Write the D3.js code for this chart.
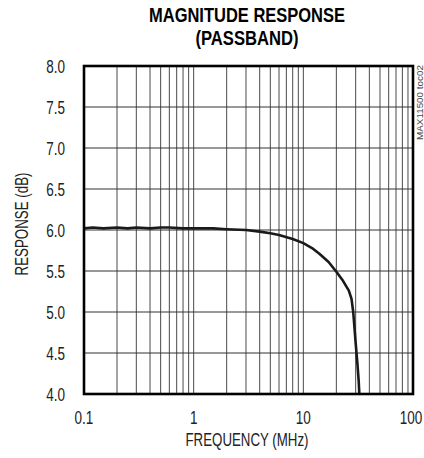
<!DOCTYPE html>
<html>
<head>
<meta charset="utf-8">
<script src="https://cdn.jsdelivr.net/npm/d3@7"></script>
<style>
  html, body { margin: 0; padding: 0; background: #fff; }
  svg { display: block; }
  text { font-family: "Liberation Sans", Arial, sans-serif; fill: #222; }
</style>
</head>
<body>
<div id="chart"></div>
<script>
// values
const freqMHz = [0.1, 0.12, 0.15, 0.2, 0.25, 0.3, 0.4, 0.5, 0.6, 0.8, 1, 1.5, 2, 3, 4, 5, 6, 8, 10, 12, 14, 17, 20, 23, 26, 27.5, 28.5, 29.3, 30, 31, 32, 32.4];
const respDb  = [6.02, 6.03, 6.02, 6.03, 6.02, 6.03, 6.02, 6.03, 6.03, 6.02, 6.02, 6.02, 6.01, 6.00, 5.98, 5.96, 5.94, 5.89, 5.84, 5.78, 5.71, 5.61, 5.49, 5.38, 5.26, 5.16, 5.00, 4.80, 4.62, 4.40, 4.15, 4.0];

const xDomain = [0.1, 100];
const yDomain = [4.0, 8.0];
const xTickLabels = [0.1, 1, 10, 100];
const yTicks = d3.range(4.0, 8.01, 0.5);

const width = 424, height = 458;
const margin = {top: 66, right: 11, bottom: 64, left: 84};

const svg = d3.select("#chart").append("svg")
    .attr("width", width)
    .attr("height", height);

const x = d3.scaleLog().domain(xDomain).range([margin.left, width - margin.right]);
const y = d3.scaleLinear().domain(yDomain).range([height - margin.bottom, margin.top]);

// squeeze a text horizontally to mimic the narrow face of the original
const narrow = (sel, k) => sel.each(function() {
    const len = this.getComputedTextLength();
    d3.select(this).attr("textLength", len * k).attr("lengthAdjust", "spacingAndGlyphs");
});

// title
svg.append("text")
    .attr("x", 247).attr("y", 22)
    .attr("text-anchor", "middle")
    .attr("font-size", 21).attr("font-weight", "bold")
    .attr("textLength", 196).attr("lengthAdjust", "spacingAndGlyphs")
    .style("fill", "#000")
    .text("MAGNITUDE RESPONSE");
svg.append("text")
    .attr("x", 247).attr("y", 45)
    .attr("text-anchor", "middle")
    .attr("font-size", 21).attr("font-weight", "bold")
    .attr("textLength", 103).attr("lengthAdjust", "spacingAndGlyphs")
    .style("fill", "#000")
    .text("(PASSBAND)");

// grid: minor log lines
const vLines = x.ticks().filter(d => d > xDomain[0] && d < xDomain[1]);
svg.append("g")
  .selectAll("line")
  .data(vLines)
  .join("line")
    .attr("x1", d => x(d)).attr("x2", d => x(d))
    .attr("y1", y(yDomain[0])).attr("y2", y(yDomain[1]))
    .attr("stroke", "#4a4a4a").attr("stroke-width", 1);

svg.append("g")
  .selectAll("line")
  .data(yTicks.slice(1, -1))
  .join("line")
    .attr("x1", x(xDomain[0])).attr("x2", x(xDomain[1]))
    .attr("y1", d => y(d)).attr("y2", d => y(d))
    .attr("stroke", "#333").attr("stroke-width", 1);

// response curve
const line = d3.line()
    .x((d, i) => x(freqMHz[i]))
    .y(d => y(d));
svg.append("path")
    .datum(respDb)
    .attr("fill", "none")
    .attr("stroke", "#1a1a1a")
    .attr("stroke-width", 2.6)
    .attr("stroke-linejoin", "round")
    .attr("d", line);

// frame
svg.append("rect")
    .attr("x", x(xDomain[0])).attr("y", y(yDomain[1]))
    .attr("width", x(xDomain[1]) - x(xDomain[0]))
    .attr("height", y(yDomain[0]) - y(yDomain[1]))
    .attr("fill", "none").attr("stroke", "#000").attr("stroke-width", 2.6);

// tick labels
svg.append("g")
  .selectAll("text")
  .data(yTicks)
  .join("text")
    .attr("x", 65).attr("y", d => y(d) + 7)
    .attr("text-anchor", "end")
    .attr("font-size", 18)
    .text(d => d.toFixed(1))
    .call(narrow, 0.75);

svg.append("g")
  .selectAll("text")
  .data(xTickLabels)
  .join("text")
    .attr("x", d => d === 100 ? x(d) - 2 : x(d)).attr("y", 424)
    .attr("text-anchor", "middle")
    .attr("font-size", 18)
    .text(d => d)
    .call(narrow, 0.75);

// axis titles
svg.append("text")
    .attr("x", 247).attr("y", 446)
    .attr("text-anchor", "middle")
    .attr("font-size", 18)
    .attr("textLength", 123).attr("lengthAdjust", "spacingAndGlyphs")
    .text("FREQUENCY (MHz)");

svg.append("text")
    .attr("transform", "translate(28,224) rotate(-90)")
    .attr("text-anchor", "middle")
    .attr("font-size", 18)
    .attr("textLength", 103).attr("lengthAdjust", "spacingAndGlyphs")
    .text("RESPONSE (dB)");

// figure code
svg.append("text")
    .attr("transform", "translate(423,65) rotate(-90)")
    .attr("text-anchor", "end")
    .attr("font-size", 9)
    .attr("textLength", 75).attr("lengthAdjust", "spacingAndGlyphs")
    .style("fill", "#444")
    .text("MAX11500 toc02");
</script>
</body>
</html>
